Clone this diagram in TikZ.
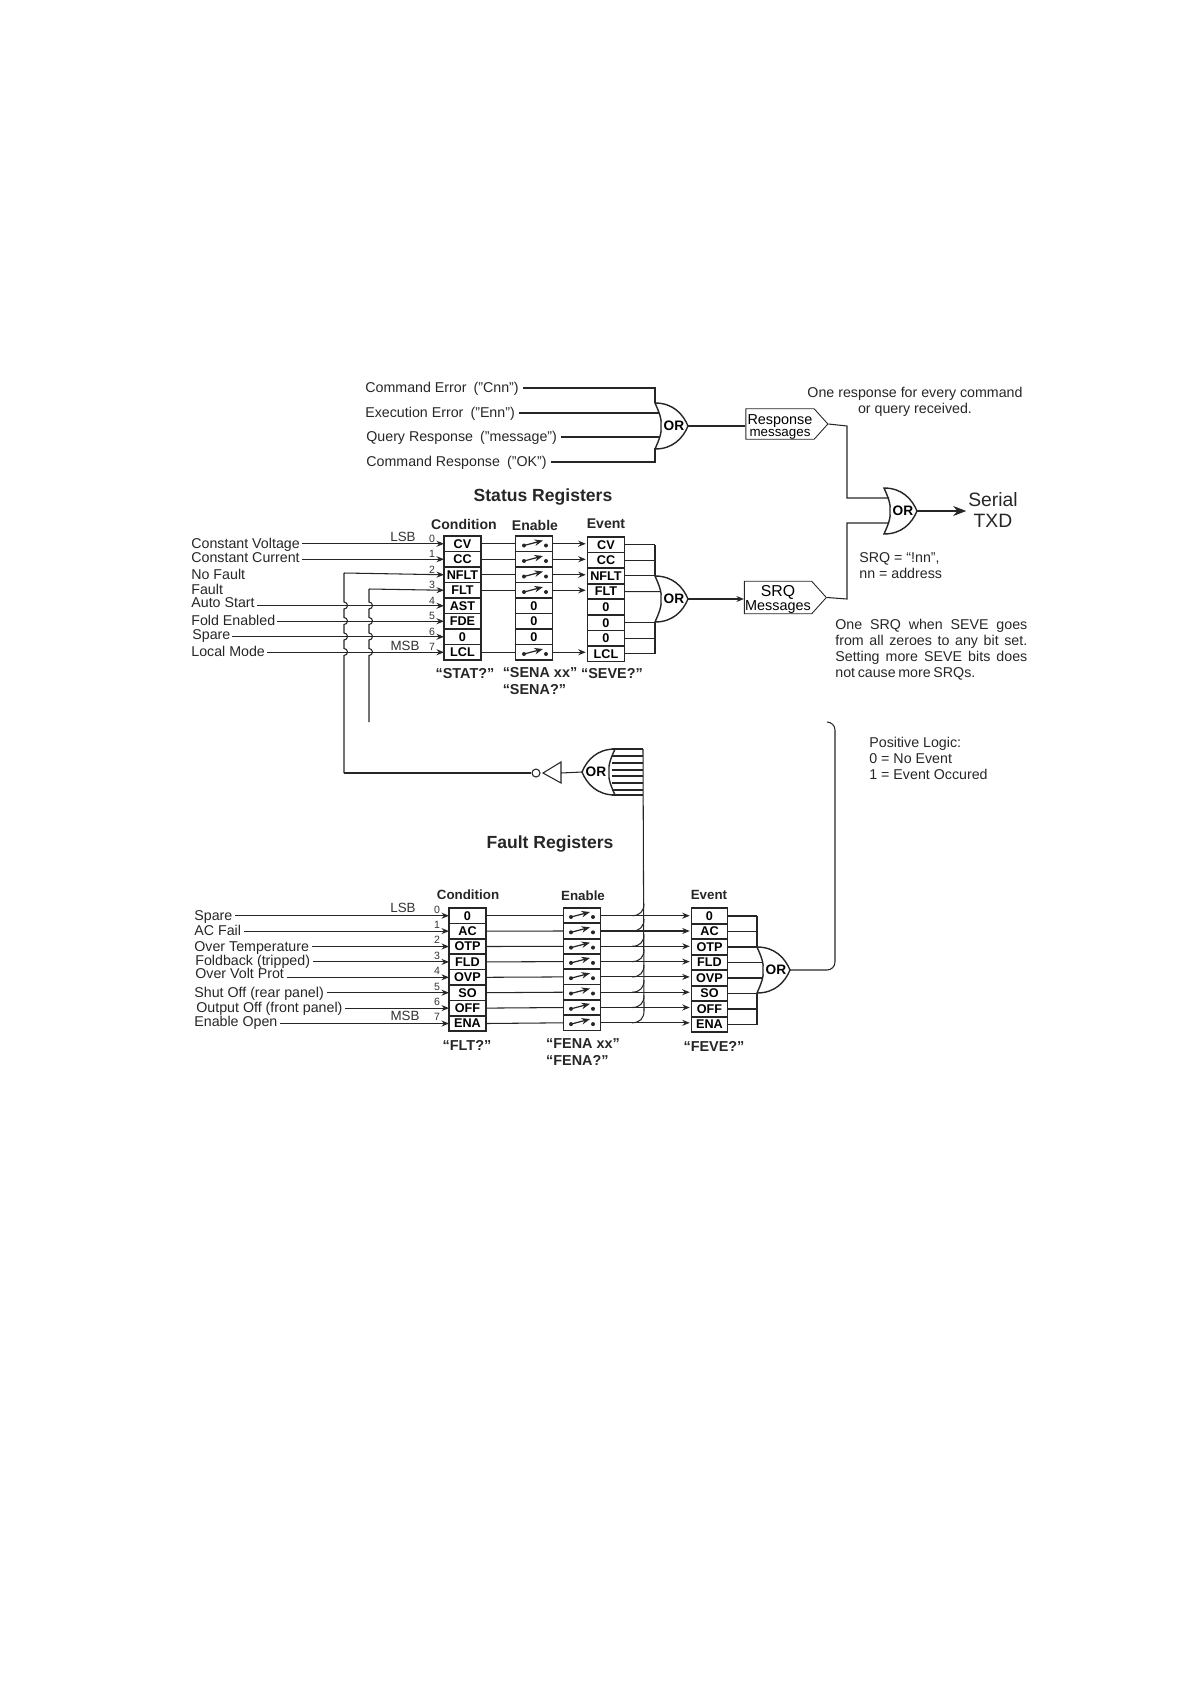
\documentclass[tikz,border=0pt]{standalone}
\usepackage{fontspec}
\setmainfont{Liberation Sans}
\usetikzlibrary{arrows.meta, shapes.symbols}
\newcommand{\fitline}[2]{\makebox[#1][s]{\spaceskip=0pt #2}}

\begin{document}
\begin{tikzpicture}[
    x=0.02cm, y=-0.02cm,
    lbl/.style={font=\fontsize{8.1}{10}\selectfont, anchor=west, inner sep=0pt, text=black!85},
    note/.style={font=\fontsize{8.1}{9.1}\selectfont, inner sep=0pt, text=black!85},
    tick/.style={font=\fontsize{6}{7}\selectfont, inner sep=0pt, text=black!80},
    title/.style={font=\bfseries\fontsize{10}{12}\selectfont, inner sep=0pt, text=black!85},
    head/.style={font=\bfseries\fontsize{8}{10}\selectfont, inner sep=0pt, text=black!85},
    query/.style={font=\bfseries\fontsize{8.2}{9.4}\selectfont, inner sep=0pt, align=left, text=black!85},
    regrow/.style={draw=black!85, line width=0.9pt, minimum width=0.74cm, minimum height=0.309cm,
        inner sep=0pt, outer sep=0pt, font=\bfseries\fontsize{7.2}{8}\selectfont},
    sigline/.style={draw=black!85, line width=0.6pt},
    sigarrow/.style={sigline, -{Stealth[length=1.5mm, width=1.2mm]}},
    lever/.style={sigline, line width=0.7pt, -{Stealth[length=1.7mm, width=1.3mm]}},
    msgbox/.style={draw=black!85, line width=0.5pt, signal, signal to=east, signal pointer angle=96,
        minimum width=1.64cm, minimum height=0.61cm, inner sep=0pt, align=center,
        font=\fontsize{8.2}{5.6}\selectfont},
    orgate/.pic={
        \draw[sigline, line width=0.8pt] (0,-23) .. controls (4,-14) and (7,-7) .. (6,0)
            .. controls (7,7) and (4,14) .. (0,23)
            .. controls (18,23) and (28,12) .. (33,0)
            .. controls (28,-12) and (18,-23) .. (0,-23) -- cycle;
        \coordinate (-nose) at (33,0);
        \node[font=\bfseries\fontsize{7.8}{9}\selectfont, inner sep=0pt] (-txt) at (19,0) {OR};
    }
]
    % ---- response messages ----
    \coordinate (respa) at (655,388);
    \coordinate (respb) at (655,403);
    \coordinate (respc) at (655,448);
    \coordinate (respd) at (655,462);
    \coordinate (respe) at (659,413);
    \coordinate (respf) at (659,437);
    \foreach \n/\x/\y/\t in {0/365/388/{Command Error\enspace("Cnn")},
                             1/365/413/{Execution Error\enspace("Enn")},
                             2/366/437/{Query Response\enspace("message")},
                             3/366/462/{Command Response\enspace("OK")}} {
        \node[lbl] (resp\n) at (\x,\y+0.5) {\t};
    }
    \pic (orresp) at (655,426) {orgate};
    \draw[sigline] ([xshift=2pt]resp0.east |- respa) -- (respa) -- (respb);
    \draw[sigline] ([xshift=2pt]resp1.east |- respe) -- (respe);
    \draw[sigline] ([xshift=2pt]resp2.east |- respf) -- (respf);
    \draw[sigline] ([xshift=2pt]resp3.east |- respd) -- (respd) -- (respc);
    \node[msgbox] (respmsg) at (780,424) {\rule{0pt}{9pt}Response\\{\fontsize{7.6}{5.6}\selectfont messages}};
    \draw[sigline] (orresp-nose) -- (respmsg.west |- orresp-nose);

    % ---- output gate ----
    \pic (ortxd) at (884,511) {orgate};
    \node[font=\fontsize{11}{12}\selectfont, inner sep=0pt, align=center, text=black!85] (txd) at (993,510) {Serial\\TXD};
    \draw[sigline, -{Stealth[length=2.6mm, width=2mm]}] (ortxd-nose) -- ([xshift=-1pt]txd.west |- ortxd-nose);
    \draw[sigline] (respmsg.east) -- (847,426) -- (847,498) -- (889,498);

    % ---- status registers ----
    \node[title] (stattitle) at (543,497) {Status Registers};
    \node[head] (statcond) at (464,524) {Condition};
    \node[head] (statena) at (535,525) {Enable};
    \node[head] (statev) at (606,524) {Event};
    \foreach \i/\t in {0/CV,1/CC,2/NFLT,3/FLT,4/AST,5/FDE,6/0,7/LCL} {
        \node[regrow] (sc\i) at (462.5,543.75+15.5*\i) {\t};
        \node[tick] (sn\i) at (432,538.5+15.5*\i) {\i};
    }
    \foreach \i/\t in {0/CV,1/CC,2/NFLT,3/FLT,4/0,5/0,6/0,7/LCL} {
        \node[regrow] (se\i) at (606,544.75+15.6*\i) {\t};
    }
    \foreach \i in {0,1,2,3,7} {
        \node[regrow] (sw\i) at (534,543.75+15.5*\i) {};
        \draw[sigline] (sc\i.east) -- (sw\i.west);
        \draw[sigarrow] (sw\i.east) -- ([xshift=-1pt]sw\i.east -| se\i.west);
        \fill[black!85] (524,545.5+15.5*\i) circle[radius=2] (546,545.5+15.5*\i) circle[radius=2];
        \draw[lever] (524,545.5+15.5*\i) -- (543,540.5+15.5*\i);
    }
    \foreach \i in {4,5,6} {
        \node[regrow] (sw\i) at (534,543.75+15.5*\i) {0};
    }
    \foreach \i/\x/\y/\t in {0/191/545/Constant Voltage, 1/191/558/Constant Current, 4/191/603/Auto Start,
                             5/191/620/Fold Enabled, 6/192/636/Spare, 7/191/651/Local Mode} {
        \node[lbl] (ss\i) at (\x,\y) {\t};
        \draw[sigarrow] ([xshift=1pt]ss\i.east |- sc\i) -- (sc\i.west);
    }
    \node[lbl] (ss2) at (191,574) {No Fault};
    \node[lbl] (ss3) at (191,589) {Fault};
    \node[tick, font=\fontsize{7.6}{9}\selectfont] (statlsb) at (403,537) {LSB};
    \node[tick, font=\fontsize{7.6}{9}\selectfont] (statmsb) at (405,646) {MSB};
    \node[query] (qstat) at (465,674) {``STAT?''};
    \node[query] (qsena) at (540,681) {``SENA xx''\\``SENA?''};
    \node[query] (qseve) at (612,674) {``SEVE?''};

    % ---- buses with hops ----
    \coordinate (busa) at (344,573);
    \coordinate (busb) at (369,589);
    \coordinate (busaend) at (344,773);
    \coordinate (busbend) at (369,722);
    \draw[sigarrow] (busa) -- (sc2.west);
    \draw[sigarrow] (busb) -- (sc3.west);
    \draw[sigline] (busa) \foreach \y in {605.5,621,636.5,652} { -- (344,\y-3.5) arc[start angle=-90, end angle=90, radius=3.5] } -- (busaend);
    \draw[sigline] (busb) \foreach \y in {605.5,621,636.5,652} { -- (369,\y-3.5) arc[start angle=-90, end angle=90, radius=3.5] } -- (busbend);

    % ---- event gate, status ----
    \pic (orstat) at (655,599) {orgate};
    \foreach \i in {0,1,2} { \draw[sigline] (se\i.east) -- (655,544.75+15.6*\i); }
    \draw[sigline] (se3.east) -- (660,591.55);
    \foreach \i in {5,6,7} { \draw[sigline] (se\i.east) -- (655,544.75+15.6*\i); }
    \draw[sigline] (655,544.75) -- (655,576);
    \draw[sigline] (655,622) -- (655,654);
    \node[msgbox] (srqmsg) at (778,597.5) {\rule{0pt}{8.5pt}\fontsize{9}{6}\selectfont SRQ\\Messages};
    \draw[sigarrow] (orstat-nose) -- (srqmsg.west |- orstat-nose);
    \draw[sigline] (srqmsg.east) -- (847,599) -- (847,523) -- (889,523);

    % ---- notes ----
    \node[note, align=center] (noteresp) at (915,401.5) {One response for every command\\or query received.};
    \node[note, align=left, anchor=north west] (notesrq) at (859,552) {SRQ = ``!nn'',\\nn = address};
    \node[note, align=left, anchor=north west, text width=3.84cm] (noteone) at (835,619) {\fitline{3.84cm}{One SRQ when SEVE goes}\\\fitline{3.84cm}{from all zeroes to any bit set.}\\\fitline{3.84cm}{Setting more SEVE bits does}\\\fitline{2.78cm}{not cause more SRQs.}};
    \node[note, align=left, anchor=north west] (notelogic) at (869,737) {Positive Logic:\\0 = No Event\\1 = Event Occured};

    % ---- fault registers ----
    \node[title] (faulttitle) at (550,844) {Fault Registers};
    \node[head, font=\bfseries\fontsize{7.6}{9}\selectfont] (fltcond) at (468,895) {Condition};
    \node[head, font=\bfseries\fontsize{7.6}{9}\selectfont] (fltena) at (583,896) {Enable};
    \node[head, font=\bfseries\fontsize{7.6}{9}\selectfont] (fltev) at (709,895) {Event};
    \foreach \i/\t in {0/0,1/AC,2/OTP,3/FLD,4/OVP,5/SO,6/OFF,7/ENA} {
        \node[regrow] (fc\i) at (467.5,915.7+15.4*\i) {\t};
        \node[regrow] (fw\i) at (582,915.7+15.3*\i) {};
        \node[regrow, minimum width=0.72cm] (fe\i) at (709.5,916+15.5*\i) {\t};
        \node[tick] (fn\i) at (437,909.5+15.4*\i) {\i};
        \draw[sigline] (fc\i.east) -- (fw\i.west);
        \coordinate (fb\i) at (632,915.7+15.3*\i);
        \coordinate (fbu\i) at (644,903.7+15.3*\i);
        \draw[sigarrow] (fw\i.east) -- ([xshift=-1pt]fw\i.east -| fe\i.west);
        \draw[sigline] (fb\i) .. controls (640,915.7+15.3*\i) and (644,911+15.3*\i) .. (fbu\i);
        \fill[black!85] (571,917+15.3*\i) circle[radius=2] (593,917+15.3*\i) circle[radius=2];
        \draw[lever] (571,917+15.3*\i) -- (590,912+15.3*\i);
    }
    \foreach \i/\x/\y/\t in {0/194/917/Spare, 1/194/930/AC Fail, 2/194/948/Over Temperature, 3/195/962/Foldback (tripped),
                             4/195/973/Over Volt Prot, 5/194/994/Shut Off (rear panel), 6/196/1009/Output Off (front panel), 7/194/1023/Enable Open} {
        \node[lbl] (fs\i) at (\x,\y) {\t};
        \draw[sigarrow] ([xshift=1.5pt]fs\i.east |- fc\i) -- (fc\i.west);
    }
    \node[tick, font=\fontsize{7.6}{9}\selectfont] (fltlsb) at (403,908) {LSB};
    \node[tick, font=\fontsize{7.6}{9}\selectfont] (fltmsb) at (405,1016) {MSB};
    \node[query] (qflt) at (467,1045) {``FLT?''};
    \node[query] (qfena) at (583,1052) {``FENA xx''\\``FENA?''};
    \node[query] (qfeve) at (714,1046) {``FEVE?''};

    % ---- event gate, fault ----
    \pic (orflt) at (757,970) {orgate};
    \foreach \i in {0,1,5,6,7} { \draw[sigline] (fe\i.east) -- (757,916+15.5*\i); }
    \draw[sigline] (fe2.east) -- (757,947);
    \draw[sigline] (fe3.east) -- (762,962.5);
    \draw[sigline] (fe4.east) -- (762,978);
    \draw[sigline] (757,916) -- (757,947);
    \draw[sigline] (757,993) -- (757,1024.5);
    \draw[sigline] (orflt-nose) -- (827,970) arc[start angle=90, end angle=0, radius=8] -- (835,730) arc[start angle=0, end angle=-90, radius=8];

    % ---- fault summary gate ----
    \pic[xscale=-1] (orsum) at (615,772) {orgate};
    \foreach \y in {749,756,763,770,776,783,790,795} { \draw[sigline] (612,\y) -- (643,\y); }
    \draw[sigline] (643,749) -- (fbu7);
    \node[draw=black!85, line width=0.6pt, circle, minimum size=0.16cm, inner sep=0pt] (invc) at (536,773) {};
    \coordinate (invb) at (561,773);
    \draw[sigline] (561,762) -- (543,773) -- (561,783) -- cycle;
    \draw[sigline] (orsum-nose) -- (invb);
    \draw[sigline] (invc.west) -- (busaend);
    \useasboundingbox (0,0) rectangle (1190,1684);
\end{tikzpicture}
\end{document}
